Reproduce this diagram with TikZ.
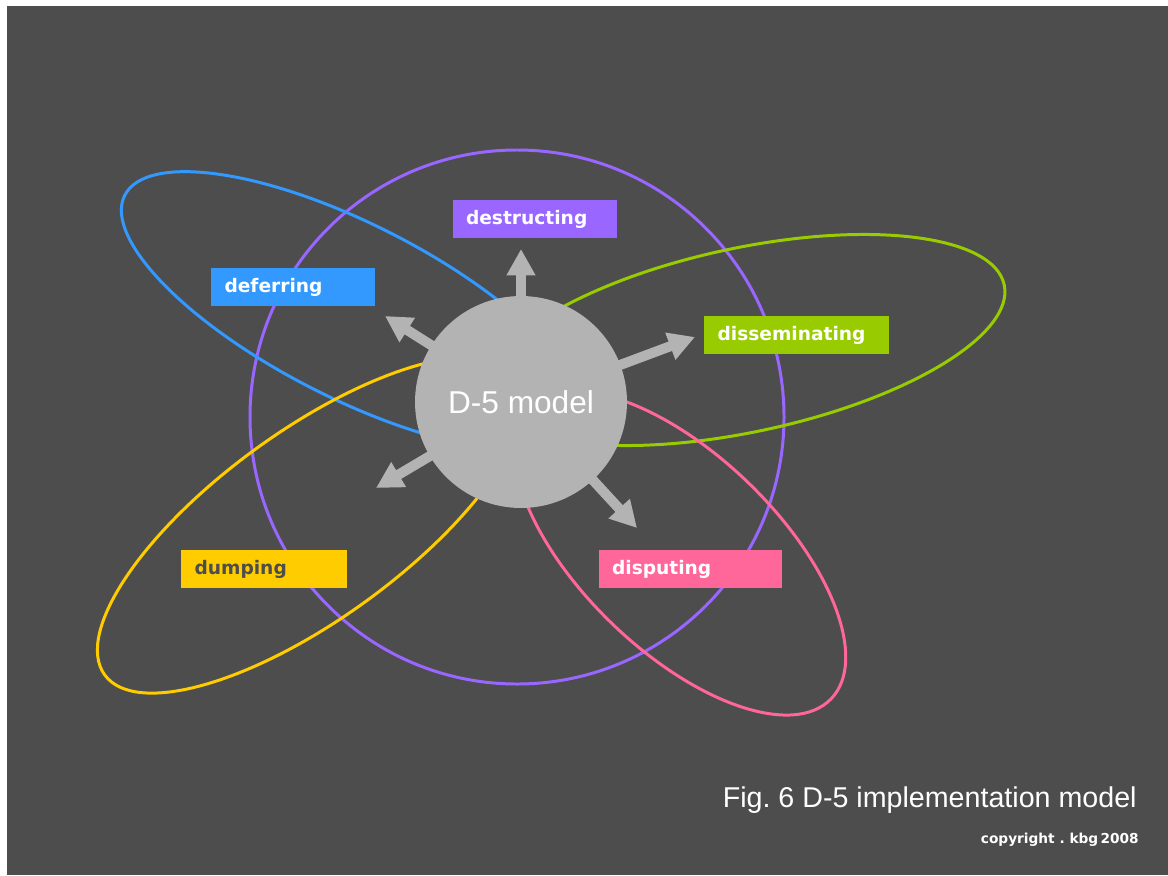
\documentclass[tikz,border=0pt]{standalone}
\usepackage{fontspec}
\setmainfont{Liberation Sans}
\newfontfamily\tagfont{DejaVu Sans}
\usetikzlibrary{arrows.meta}
\frenchspacing

\definecolor{slate}{HTML}{4D4D4D}
\definecolor{coregray}{HTML}{B3B3B3}
\definecolor{violet5}{HTML}{9966FF}
\definecolor{blue5}{HTML}{3399FF}
\definecolor{green5}{HTML}{99CC00}
\definecolor{yellow5}{HTML}{FFCC00}
\definecolor{pink5}{HTML}{FF6699}

\begin{document}
\begin{tikzpicture}[x=0.02cm, y=-0.02cm,
  orbit/.style={line width=1.7pt},
  spoke/.style={draw=coregray, line width=5.7pt,
    -{Triangle[width=15.5pt, length=15pt]}},
  core/.style={circle, fill=coregray, minimum size=4.24cm, inner sep=0pt,
    text=white, font=\fontsize{18}{20}\selectfont},
  tag/.style={rectangle, minimum height=0.77cm, inner xsep=0.27cm, inner ysep=0pt,
    align=left, text=white, font=\tagfont\bfseries\fontsize{10.6}{12}\selectfont},
  caption/.style={text=white, inner sep=0pt}
]
% page and backdrop
\fill[white] (0,0) rectangle (1168,875);
\fill[slate] (7,6) rectangle (1168,875);
\useasboundingbox (0,0) rectangle (1168,875);

% orbits
\draw[orbit, violet5] (517,417) circle [radius=267];
\draw[orbit, blue5, rotate around={-27:(352,311)}] (352,311) ellipse [x radius=255, y radius=87];
\draw[orbit, green5, rotate around={12:(745,340)}] (745,340) ellipse [x radius=265, y radius=92];
\draw[orbit, yellow5, rotate around={36:(311,525)}] (311,525) ellipse [x radius=255, y radius=94];
\draw[orbit, pink5, rotate around={-44:(680,553)}] (680,553) ellipse [x radius=210, y radius=98];

% spokes out of the core
\coordinate (hub) at (521,402);
\coordinate (tipN) at (521,249);
\coordinate (tipNW) at (385,316);
\coordinate (tipE) at (695,337);
\coordinate (tipSW) at (376,488);
\coordinate (tipSE) at (637,528);
\foreach \t in {tipN, tipNW, tipE, tipSW, tipSE}
  \draw[spoke] (hub) -- (\t);

% core
\node[core] (core) at (hub) {D-5 model};

% labels
\node[tag, fill=violet5, text width=2.76cm] (destructing) at (535,219) {destructing};
\node[tag, fill=blue5, text width=2.74cm] (deferring) at (293,287) {deferring};
\node[tag, fill=green5, text width=3.16cm] (disseminating) at (796.5,335) {disseminating};
\node[tag, fill=yellow5, text=slate, text width=2.78cm] (dumping) at (264,569) {dumping};
\node[tag, fill=pink5, text width=3.14cm] (disputing) at (690.5,569) {disputing};

% caption
\node[caption, anchor=base east, font=\fontsize{16.3}{18}\selectfont] (title) at (1137,807) {Fig. 6 D-5 implementation model};
\node[caption, anchor=base east, font=\tagfont\bfseries\fontsize{7.8}{9}\selectfont] (credit) at (1139,843) {copyright . kbg\,2008};
\end{tikzpicture}
\end{document}
